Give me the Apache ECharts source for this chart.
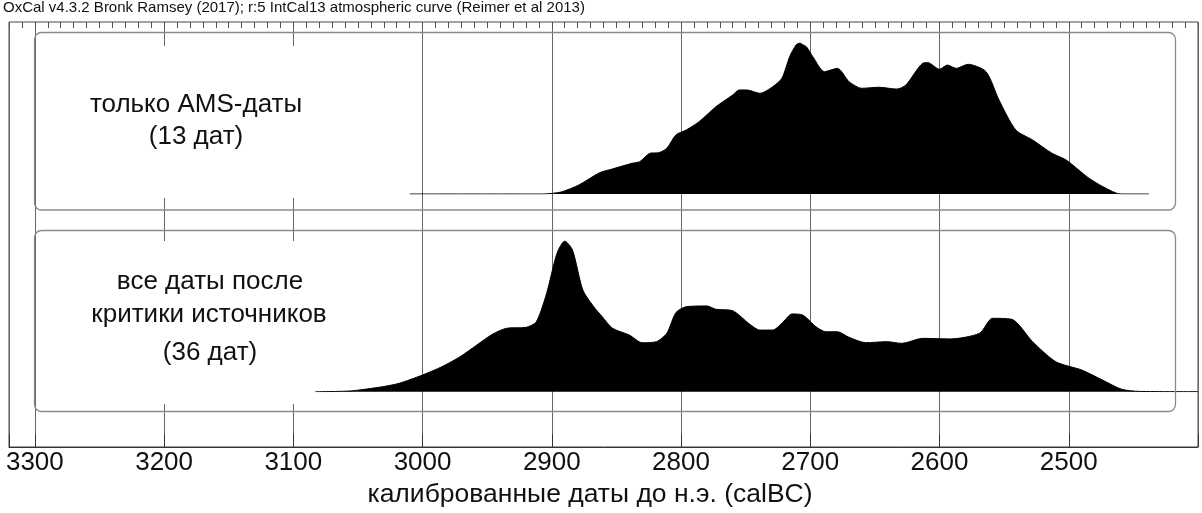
<!DOCTYPE html>
<html>
<head>
<meta charset="utf-8">
<script src="https://cdn.jsdelivr.net/npm/echarts@6/dist/echarts.min.js"></script>
<style>
html,body{margin:0;padding:0;background:#fff;}
#c{width:1202px;height:513px;}
</style>
</head>
<body>
<div id="c"></div>
<script>
// Title / texts
var titleText = 'OxCal v4.3.2 Bronk Ramsey (2017); r:5 IntCal13 atmospheric curve (Reimer et al 2013)';
var axisName = 'калиброванные даты до н.э. (calBC)';
var topLabel = ['только AMS-даты', '(13 дат)'];
var bottomLabel = ['все даты после', 'критики источников', '(36 дат)'];

// x-axis range (calBC, inverted)
var yearMin = 2400, yearMax = 3320;
var majorStep = 100, minorStep = 10;

// Top: only AMS dates (13) — [calBC year, relative probability 0..100]
var amsYears = [3010,2907,2899,2892,2879,2863,2853,2838,2832,2824,2817,2811,2804,2796,2786,2773,2760,2755,2749,2739,2729,2722,2716,2711,2708,2706,2703,2698,2689,2679,2670,2660,2647,2633,2626,2613,2609,2600,2594,2587,2578,2564,2554,2541,2528,2513,2502,2486,2476,2463,2457,2438];
var amsProb  = [0,0,0.5,1.5,6.0,14.1,16.6,20.3,21.4,27.0,27.4,30.3,39.1,42.4,47.9,57.8,65.6,68.9,68.9,66.7,71.1,76.6,90.9,98.7,100,99,97.5,90.9,81.0,83.2,74.4,70.0,70.7,69.5,72.2,86.6,87.0,82.6,85.4,83.2,85.9,81.0,62.3,42.4,35.8,27.0,22.5,11.5,6.0,0.5,0,0];

// Bottom: all dates after source criticism (36)
var allYears = [3083,3056,3031,3018,3000,2985,2971,2958,2946,2935,2920,2912,2904,2896,2890,2884,2876,2868,2861,2853,2840,2830,2819,2811,2804,2796,2780,2773,2760,2747,2739,2729,2722,2714,2706,2695,2688,2679,2670,2657,2641,2629,2613,2592,2569,2559,2544,2528,2510,2490,2474,2459,2445,2400];
var allProb  = [0,0.5,3.3,5.6,11.1,16.6,23.2,31.0,38.1,42.1,42.7,46.4,65.3,91.8,100,94.0,67.5,56.9,49.8,42.1,37.6,32.5,33.2,38.8,52.4,56.4,56.9,54.7,53.7,44.9,40.9,40.9,45.4,51.6,50.9,42.7,39.8,39.8,36.1,32.5,33.2,32.1,35.4,35.0,38.8,48.7,48.0,33.2,19.9,14.4,7.8,1.6,0.2,0];

function pairs(xs, ys){ return xs.map(function(x,i){ return [x, ys[i]]; }); }

var chart = echarts.init(document.getElementById('c'), null, {renderer:'canvas'});
var FONT = '"Liberation Sans", Arial, sans-serif';
var gridL = 9, gridW = 1189;

function hiddenX(gi){
  return {type:'value', gridIndex:gi, inverse:true, min:yearMin, max:yearMax, show:false,
          splitLine:{show:false}};
}
function hiddenY(gi){
  return {type:'value', gridIndex:gi, min:0, max:100, show:false, splitLine:{show:false}};
}

var option = {
  backgroundColor:'#fff',
  animation:false,
  grid:[
    {left:gridL, width:gridW, top:22, height:425, show:true, borderColor:'#444', borderWidth:1, backgroundColor:'transparent'},
    {left:gridL, width:gridW, top:43, height:151},
    {left:gridL, width:gridW, top:241, height:150.7}
  ],
  xAxis:[
    {type:'value', gridIndex:0, inverse:true, min:yearMin, max:yearMax, interval:majorStep,
     axisLine:{show:true, lineStyle:{color:'#333', width:1}},
     axisTick:{show:true, inside:true, length:13, lineStyle:{color:'#333', width:1}},
     axisLabel:{show:true, margin:3, fontSize:26, color:'#111', fontFamily:FONT,
       formatter:function(v){ return (v % 100 === 0 && v !== yearMin) ? String(v) : ''; }},
     splitLine:{show:true, lineStyle:{color:'#666', width:1}},
     name:axisName, nameLocation:'middle', nameGap:33,
     nameTextStyle:{fontSize:26.5, color:'#111', fontFamily:FONT, padding:[0,27,0,0]}
    },
    {type:'value', gridIndex:0, inverse:true, min:yearMin, max:yearMax, interval:minorStep,
     axisLine:{show:false}, axisLabel:{show:false}, splitLine:{show:false},
     axisTick:{show:true, inside:true, length:6, lineStyle:{color:'#555', width:1}}
    },
    hiddenX(1), hiddenX(2)
  ],
  yAxis:[
    {type:'value', gridIndex:0, show:false, splitLine:{show:false}},
    hiddenY(1), hiddenY(2)
  ],
  series:[
    {type:'line', xAxisIndex:2, yAxisIndex:1, data:pairs(amsYears, amsProb), smooth:0.25,
     showSymbol:false, z:5, lineStyle:{color:'#000', width:1}, areaStyle:{color:'#000', opacity:1}},
    {type:'line', xAxisIndex:3, yAxisIndex:2, data:pairs(allYears, allProb), smooth:0.25,
     showSymbol:false, z:5, lineStyle:{color:'#000', width:1}, areaStyle:{color:'#000', opacity:1}}
  ],
  graphic:[
    {type:'rect', z:1, shape:{x:36, y:46, width:370, height:152}, style:{fill:'#fff'}},
    {type:'rect', z:1, shape:{x:36, y:241, width:370, height:163}, style:{fill:'#fff'}},
    {type:'rect', z:10, shape:{x:34.5, y:32.5, width:1141, height:177.5, r:7}, style:{fill:'none', stroke:'#8a8a8a', lineWidth:1.3}},
    {type:'rect', z:10, shape:{x:34.5, y:230.5, width:1141, height:181, r:7}, style:{fill:'none', stroke:'#8a8a8a', lineWidth:1.3}},
    {type:'text', z:12, left:3, top:0, style:{text:titleText, font:'15px '+FONT, fill:'#111'}},
    {type:'text', z:12, x:196, y:105, style:{text:topLabel[0], font:'26px '+FONT, fill:'#111', textAlign:'center', textVerticalAlign:'middle'}},
    {type:'text', z:12, x:196, y:137, style:{text:topLabel[1], font:'26px '+FONT, fill:'#111', textAlign:'center', textVerticalAlign:'middle'}},
    {type:'text', z:12, x:210, y:282, style:{text:bottomLabel[0], font:'26px '+FONT, fill:'#111', textAlign:'center', textVerticalAlign:'middle'}},
    {type:'text', z:12, x:209, y:315, style:{text:bottomLabel[1], font:'26px '+FONT, fill:'#111', textAlign:'center', textVerticalAlign:'middle'}},
    {type:'text', z:12, x:210, y:353, style:{text:bottomLabel[2], font:'26px '+FONT, fill:'#111', textAlign:'center', textVerticalAlign:'middle'}}
  ]
};
chart.setOption(option);
</script>
</body>
</html>
